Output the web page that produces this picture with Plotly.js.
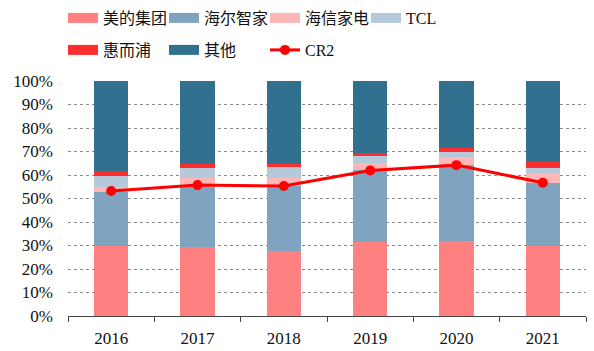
<!DOCTYPE html>
<html>
<head>
<meta charset="utf-8">
<script src="https://cdn.plot.ly/plotly-3.0.1.min.js"></script>
<style>html,body{margin:0;padding:0;background:#fff;}#chart{width:594px;height:351px;}</style>
</head>
<body>
<div id="chart"></div>
<script>
const years = ['2016', '2017', '2018', '2019', '2020', '2021'];
const midea = [29.8, 29.5, 27.7, 31.3, 32.1, 29.8];
const haier = [23.1, 25.5, 27.6, 30.8, 32.2, 26.9];
const hisense = [2.1, 3.6, 3.6, 2.9, 3.2, 4.0];
const tcl = [4.6, 4.2, 4.6, 3.1, 2.4, 2.4];
const whirlpool = [2.2, 1.9, 1.2, 1.1, 1.4, 2.6];
const others = [38.2, 35.3, 35.3, 30.8, 28.7, 34.3];
const cr2 = [53.2, 55.7, 55.3, 61.9, 64.2, 56.7];

const seriesNames = ['美的集团', '海尔智家', '海信家电', 'TCL', '惠而浦', '其他'];
const seriesValues = [midea, haier, hisense, tcl, whirlpool, others];
const seriesColors = ['#FF8080', '#80A4BF', '#FFB6B6', '#B5C9DA', '#FF2E2E', '#31708F'];
const legendOf = ['legend', 'legend', 'legend', 'legend', 'legend2', 'legend2'];

const FONT = '"Liberation Serif", "Times New Roman", "Noto Sans CJK SC", serif';

const traces = [];
seriesNames.forEach((n, i) => {
  traces.push({
    type: 'bar', name: n, x: years, y: seriesValues[i],
    marker: {color: seriesColors[i], line: {width: 0}},
    showlegend: false, hoverinfo: 'name+y'
  });
});
// legend entries (wide swatches)
seriesNames.forEach((n, i) => {
  traces.push({
    type: 'scatter', mode: 'lines', name: n, x: [years[0]], y: [null],
    line: {color: seriesColors[i], width: 10},
    legend: legendOf[i], showlegend: true, hoverinfo: 'skip'
  });
});
traces.push({
  type: 'scatter', mode: 'lines+markers', name: 'CR2', x: years, y: cr2,
  line: {color: '#FF0000', width: 3},
  marker: {color: '#FF0000', size: 10},
  legend: 'legend2', showlegend: true
});

const legendCommon = {
  orientation: 'h', xref: 'container', yref: 'container',
  xanchor: 'left', yanchor: 'middle', x: 63 / 594,
  entrywidth: 56, entrywidthmode: 'pixels', traceorder: 'normal',
  font: {family: FONT, size: 16, color: '#111'},
  bgcolor: 'rgba(0,0,0,0)', borderwidth: 0, itemclick: false
};

const layout = {
  width: 594, height: 351,
  margin: {l: 68, r: 8, t: 81, b: 35, pad: 0},
  paper_bgcolor: '#fff', plot_bgcolor: '#fff',
  barmode: 'stack', bargap: 0.6,
  font: {family: FONT, size: 17, color: '#111'},
  showlegend: true,
  legend: Object.assign({}, legendCommon, {y: 1 - 18 / 351}),
  legend2: Object.assign({}, legendCommon, {y: 1 - 50 / 351}),
  xaxis: {
    type: 'category', tickson: 'boundaries', ticks: 'outside', ticklen: 5,
    tickcolor: '#444', showline: true, linecolor: '#444', linewidth: 1,
    showgrid: false, ticklabelstandoff: 7,
    tickfont: {family: FONT, size: 17, color: '#111'}
  },
  yaxis: {
    range: [0, 100], dtick: 10, ticksuffix: '%', showline: false,
    showgrid: true, gridcolor: '#8a8a8a', griddash: 'dot', gridwidth: 1,
    zeroline: false, ticks: '', ticklabelstandoff: 14,
    tickfont: {family: FONT, size: 17, color: '#111'}
  }
};

Plotly.newPlot('chart', traces, layout, {displayModeBar: false, staticPlot: true});
</script>
</body>
</html>
